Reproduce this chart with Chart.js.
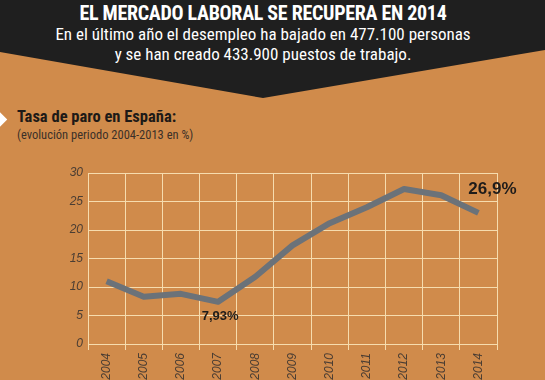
<!DOCTYPE html>
<html>
<head>
<meta charset="utf-8">
<script src="https://cdn.jsdelivr.net/npm/chart.js@4"></script>
<style>
  html, body { margin: 0; padding: 0; }
  body { width: 545px; height: 380px; position: relative; overflow: hidden; background: #d08b4b; font-family: "Liberation Sans Narrow", "Roboto Condensed", "Liberation Sans", sans-serif; }
  .banner { position: absolute; left: 0; top: 0; width: 545px; height: 100px; background: #1f1f1f;
    clip-path: polygon(0 0, 545px 0, 545px 50px, 263px 98px, 0 52px); }
  .title { position: absolute; left: 0; width: 526px; text-align: center; color: #fff; white-space: nowrap; }
  #t1 { top: 1px; font-size: 20px; font-weight: bold; letter-spacing: -0.3px; }
  #t2 { top: 24px; font-size: 17px; line-height: 20px; }
  .diamond { position: absolute; left: -6px; top: 114px; width: 11px; height: 11px; background: #fff; transform: rotate(45deg); }
  #h1 { position: absolute; left: 17px; top: 107px; font-size: 16.5px; font-weight: bold; color: #1e1a17; }
  #h2 { position: absolute; left: 17px; top: 127px; font-size: 12.5px; color: #3b3028; }
  canvas { position: absolute; left: 0; top: 0; }
</style>
</head>
<body>
<div class="banner"></div>
<div class="title" id="t1">EL MERCADO LABORAL SE RECUPERA EN 2014</div>
<div class="title" id="t2">En el último año el desempleo ha bajado en 477.100 personas<br>y se han creado 433.900 puestos de trabajo.</div>
<div class="diamond"></div>
<div id="h1">Tasa de paro en España:</div>
<div id="h2">(evolución periodo 2004-2013 en %)</div>
<div style="position:absolute;left:0;top:0;width:545px;height:380px;"><canvas id="chart"></canvas></div>
<script>
'use strict';

const years = ['2004', '2005', '2006', '2007', '2008', '2009', '2010', '2011', '2012', '2013', '2014'];
const unemployment = [11.0, 8.3, 8.8, 7.4, 11.8, 17.3, 21.2, 24.0, 27.2, 26.1, 23.0];
const yTicks = [0, 5, 10, 15, 20, 25, 30];
const callouts = [
  { index: 3, text: '7,93%', dx: 2, dy: 15, size: 13 },
  { index: 10, text: '26,9%', dx: 14, dy: -24, size: 17 }
];

const calloutPlugin = {
  id: 'callouts',
  afterDatasetsDraw(chart) {
    const ctx = chart.ctx;
    const points = chart.getDatasetMeta(0).data;
    ctx.save();
    ctx.fillStyle = '#1f1c1a';
    ctx.textAlign = 'center';
    ctx.textBaseline = 'middle';
    callouts.forEach(c => {
      const p = points[c.index];
      ctx.font = `bold ${c.size}px "Liberation Sans", Arial, sans-serif`;
      ctx.fillText(c.text, p.x + c.dx, p.y + c.dy);
    });
    ctx.restore();
  }
};

const tickFont = { family: '"Liberation Sans Narrow", "Liberation Sans", sans-serif', size: 12, style: 'italic' };

const ctx = document.getElementById('chart').getContext('2d');
new Chart(ctx, {
  type: 'line',
  data: {
    labels: years,
    datasets: [{
      data: unemployment,
      borderColor: '#6b7279',
      borderWidth: 6,
      pointRadius: 0,
      tension: 0,
      borderJoinStyle: 'round'
    }]
  },
  options: {
    responsive: true,
    maintainAspectRatio: false,
    animation: false,
    layout: { padding: { top: 173, right: 48, left: 0, bottom: 0 } },
    scales: {
      x: {
        offset: true,
        grid: { offset: true, color: '#f6dcae', lineWidth: 1, tickLength: 6, drawTicks: true },
        border: { display: false },
        ticks: {
          color: '#4a3d33',
          font: tickFont,
          minRotation: 90,
          maxRotation: 90,
          padding: 3
        },
        afterFit(scale) { scale.height = 36; }
      },
      y: {
        min: 0,
        max: 30,
        afterBuildTicks(scale) { scale.ticks = yTicks.map(v => ({ value: v })); },
        grid: { color: '#f6dcae', lineWidth: 1, drawTicks: false },
        border: { display: false },
        ticks: {
          color: '#4a3d33',
          font: tickFont,
          padding: 5
        },
        afterFit(scale) { scale.width = 88; }
      }
    },
    plugins: {
      legend: { display: false },
      tooltip: { enabled: false }
    }
  },
  plugins: [calloutPlugin]
});
</script>
</body>
</html>
